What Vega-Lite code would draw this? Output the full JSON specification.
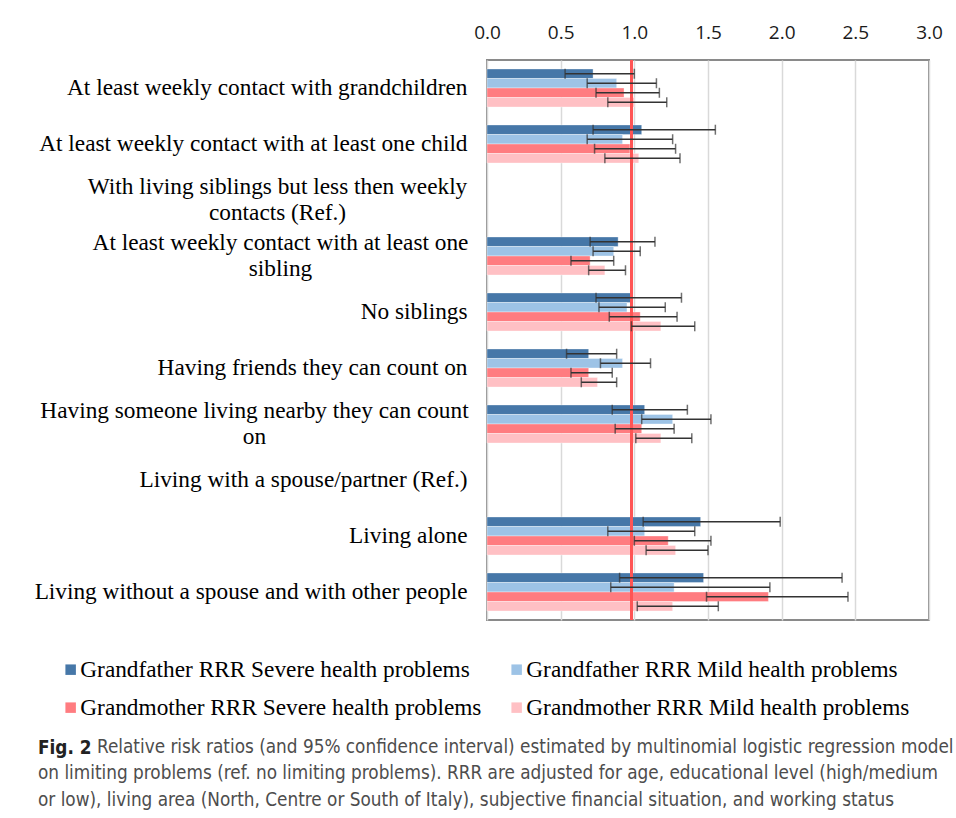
{
  "$schema": "https://vega.github.io/schema/vega-lite/v6.json",
  "autosize": {"type": "none"},
  "padding": {"left": 487, "top": 60, "right": 27, "bottom": 198},
  "width": 442,
  "height": 560,
  "background": "white",
  "config": {
    "view": {"stroke": "#8a8a8a", "strokeWidth": 2},
    "font": "Liberation Serif"
  },
  "title": {
    "text": "Fig. 2",
    "subtitle": [
      "\u200b\u00a0\u00a0\u00a0\u00a0\u00a0\u00a0\u00a0\u00a0\u00a0\u00a0\u00a0Relative risk ratios (and 95% confidence interval) estimated by multinomial logistic regression model",
      "on limiting problems (ref. no limiting problems). RRR are adjusted for age, educational level (high/medium",
      "or low), living area (North, Centre or South of Italy), subjective financial situation, and working status"
    ],
    "orient": "bottom",
    "anchor": "start",
    "frame": "group",
    "dx": -449,
    "offset": 20,
    "font": "DejaVu Sans Condensed, Liberation Sans",
    "fontSize": 18.8,
    "fontWeight": "bold",
    "color": "#222222",
    "subtitleFont": "DejaVu Sans Condensed, Liberation Sans",
    "subtitleFontSize": 18.8,
    "subtitleColor": "#4d4d4d",
    "subtitleLineHeight": 26.5,
    "subtitlePadding": -20
  },
  "data": {
    "values": [
      {"cat": "At least weekly contact with grandchildren", "series": "Grandfather RRR Severe health problems", "rrr": 0.72, "lo": 0.53, "hi": 1.0},
      {"cat": "At least weekly contact with grandchildren", "series": "Grandfather RRR Mild health problems", "rrr": 0.88, "lo": 0.68, "hi": 1.15},
      {"cat": "At least weekly contact with grandchildren", "series": "Grandmother RRR Severe health problems", "rrr": 0.93, "lo": 0.74, "hi": 1.17},
      {"cat": "At least weekly contact with grandchildren", "series": "Grandmother RRR Mild health problems", "rrr": 1.0, "lo": 0.82, "hi": 1.22},
      {"cat": "At least weekly contact with at least one child", "series": "Grandfather RRR Severe health problems", "rrr": 1.05, "lo": 0.72, "hi": 1.55},
      {"cat": "At least weekly contact with at least one child", "series": "Grandfather RRR Mild health problems", "rrr": 0.92, "lo": 0.68, "hi": 1.26},
      {"cat": "At least weekly contact with at least one child", "series": "Grandmother RRR Severe health problems", "rrr": 0.97, "lo": 0.73, "hi": 1.28},
      {"cat": "At least weekly contact with at least one child", "series": "Grandmother RRR Mild health problems", "rrr": 1.03, "lo": 0.8, "hi": 1.31},
      {"cat": "At least weekly contact with at least one|sibling", "series": "Grandfather RRR Severe health problems", "rrr": 0.89, "lo": 0.7, "hi": 1.14},
      {"cat": "At least weekly contact with at least one|sibling", "series": "Grandfather RRR Mild health problems", "rrr": 0.86, "lo": 0.72, "hi": 1.04},
      {"cat": "At least weekly contact with at least one|sibling", "series": "Grandmother RRR Severe health problems", "rrr": 0.7, "lo": 0.57, "hi": 0.86},
      {"cat": "At least weekly contact with at least one|sibling", "series": "Grandmother RRR Mild health problems", "rrr": 0.8, "lo": 0.69, "hi": 0.94},
      {"cat": "No siblings", "series": "Grandfather RRR Severe health problems", "rrr": 0.99, "lo": 0.74, "hi": 1.32},
      {"cat": "No siblings", "series": "Grandfather RRR Mild health problems", "rrr": 0.95, "lo": 0.76, "hi": 1.21},
      {"cat": "No siblings", "series": "Grandmother RRR Severe health problems", "rrr": 1.04, "lo": 0.83, "hi": 1.29},
      {"cat": "No siblings", "series": "Grandmother RRR Mild health problems", "rrr": 1.18, "lo": 0.98, "hi": 1.41},
      {"cat": "Having friends they can count on", "series": "Grandfather RRR Severe health problems", "rrr": 0.69, "lo": 0.54, "hi": 0.88},
      {"cat": "Having friends they can count on", "series": "Grandfather RRR Mild health problems", "rrr": 0.92, "lo": 0.77, "hi": 1.11},
      {"cat": "Having friends they can count on", "series": "Grandmother RRR Severe health problems", "rrr": 0.69, "lo": 0.57, "hi": 0.85},
      {"cat": "Having friends they can count on", "series": "Grandmother RRR Mild health problems", "rrr": 0.75, "lo": 0.64, "hi": 0.88},
      {"cat": "Having someone living nearby they can count|on", "series": "Grandfather RRR Severe health problems", "rrr": 1.07, "lo": 0.85, "hi": 1.36},
      {"cat": "Having someone living nearby they can count|on", "series": "Grandfather RRR Mild health problems", "rrr": 1.26, "lo": 1.05, "hi": 1.52},
      {"cat": "Having someone living nearby they can count|on", "series": "Grandmother RRR Severe health problems", "rrr": 1.05, "lo": 0.87, "hi": 1.27},
      {"cat": "Having someone living nearby they can count|on", "series": "Grandmother RRR Mild health problems", "rrr": 1.18, "lo": 1.01, "hi": 1.39},
      {"cat": "Living alone", "series": "Grandfather RRR Severe health problems", "rrr": 1.45, "lo": 1.06, "hi": 1.99},
      {"cat": "Living alone", "series": "Grandfather RRR Mild health problems", "rrr": 1.07, "lo": 0.82, "hi": 1.41},
      {"cat": "Living alone", "series": "Grandmother RRR Severe health problems", "rrr": 1.23, "lo": 1.0, "hi": 1.52},
      {"cat": "Living alone", "series": "Grandmother RRR Mild health problems", "rrr": 1.28, "lo": 1.08, "hi": 1.5},
      {"cat": "Living without a spouse and with other people", "series": "Grandfather RRR Severe health problems", "rrr": 1.47, "lo": 0.9, "hi": 2.41},
      {"cat": "Living without a spouse and with other people", "series": "Grandfather RRR Mild health problems", "rrr": 1.27, "lo": 0.84, "hi": 1.92},
      {"cat": "Living without a spouse and with other people", "series": "Grandmother RRR Severe health problems", "rrr": 1.91, "lo": 1.49, "hi": 2.45},
      {"cat": "Living without a spouse and with other people", "series": "Grandmother RRR Mild health problems", "rrr": 1.26, "lo": 1.02, "hi": 1.57}
    ]
  },
  "layer": [
    {
      "mark": {"type": "bar", "stroke": "white", "strokeOpacity": 0.35, "strokeWidth": 1},
      "encoding": {
        "y": {
          "field": "cat",
          "type": "nominal",
          "title": null,
          "scale": {
            "domain": [
              "At least weekly contact with grandchildren",
              "At least weekly contact with at least one child",
              "With living siblings but less then weekly|contacts (Ref.)",
              "At least weekly contact with at least one|sibling",
              "No siblings",
              "Having friends they can count on",
              "Having someone living nearby they can count|on",
              "Living with a spouse/partner (Ref.)",
              "Living alone",
              "Living without a spouse and with other people"
            ],
            "paddingInner": 0.32,
            "paddingOuter": 0.16
          },
          "axis": {
            "domain": false,
            "ticks": false,
            "labelExpr": "split(datum.label, '|')",
            "labelFont": "Liberation Serif",
            "labelFontSize": 23.3,
            "labelColor": "#000000",
            "labelLineHeight": 26,
            "labelLimit": 600,
            "labelAlign": {"condition": {"test": "indexof(datum.value, '|') >= 0", "value": "center"}, "value": "right"},
            "labelOffset": {"condition": {"test": "indexof(datum.value, '|') >= 0", "value": -13}, "value": 0},
            "labelPadding": {
              "condition": [
                {"test": "indexof(datum.value, 'With living') == 0", "value": 210},
                {"test": "indexof(datum.value, 'one|sibling') > 0", "value": 207},
                {"test": "indexof(datum.value, 'Having someone') == 0", "value": 233}
              ],
              "value": 20
            }
          }
        },
        "x": {
          "field": "rrr",
          "type": "quantitative",
          "title": null,
          "scale": {"domain": [0, 3], "nice": false, "zero": true},
          "axis": {
            "orient": "top",
            "values": [0, 0.5, 1, 1.5, 2, 2.5, 3],
            "format": ".1f",
            "domain": false,
            "ticks": false,
            "grid": true,
            "gridColor": "#d9d9d9",
            "gridWidth": 1.5,
            "labelFlush": false,
            "labelFont": "Open Sans",
            "labelFontSize": 19,
            "labelColor": "#1a1a1a",
            "labelPadding": 18
          }
        },
        "yOffset": {
          "field": "series",
          "type": "nominal",
          "scale": {
            "domain": [
              "Grandfather RRR Severe health problems",
              "Grandfather RRR Mild health problems",
              "Grandmother RRR Severe health problems",
              "Grandmother RRR Mild health problems"
            ],
            "paddingInner": 0,
            "paddingOuter": 0
          }
        },
        "color": {
          "field": "series",
          "type": "nominal",
          "scale": {
            "domain": [
              "Grandfather RRR Severe health problems",
              "Grandfather RRR Mild health problems",
              "Grandmother RRR Severe health problems",
              "Grandmother RRR Mild health problems"
            ],
            "range": ["#4677a8", "#9dc3e6", "#ff7c80", "#ffc0c4"]
          },
          "legend": {
            "title": null,
            "orient": "none",
            "legendX": -428,
            "legendY": 598,
            "direction": "horizontal",
            "columns": 2,
            "columnPadding": 23,
            "rowPadding": 14,
            "symbolType": "square",
            "symbolSize": 110,
            "symbolStrokeWidth": 0,
            "labelFont": "Liberation Serif",
            "labelFontSize": 23.3,
            "labelColor": "#000000",
            "labelOffset": -2,
            "labelLimit": 600
          }
        }
      }
    },
    {
      "mark": {"type": "rule", "color": "#ff5555", "strokeWidth": 2.2, "opacity": 0.75},
      "encoding": {"x": {"datum": 0.98, "type": "quantitative"}}
    },
    {
      "mark": {"type": "rule", "color": "#333333", "strokeWidth": 1.5},
      "encoding": {
        "y": {"field": "cat", "type": "nominal"},
        "x": {"field": "lo", "type": "quantitative"},
        "x2": {"field": "hi"},
        "yOffset": {"field": "series", "type": "nominal"}
      }
    },
    {
      "mark": {"type": "tick", "color": "#333333", "thickness": 1.5, "size": 10, "orient": "vertical"},
      "encoding": {
        "y": {"field": "cat", "type": "nominal"},
        "x": {"field": "lo", "type": "quantitative"},
        "yOffset": {"field": "series", "type": "nominal"}
      }
    },
    {
      "mark": {"type": "tick", "color": "#333333", "thickness": 1.5, "size": 10, "orient": "vertical"},
      "encoding": {
        "y": {"field": "cat", "type": "nominal"},
        "x": {"field": "hi", "type": "quantitative"},
        "yOffset": {"field": "series", "type": "nominal"}
      }
    }
  ]
}
